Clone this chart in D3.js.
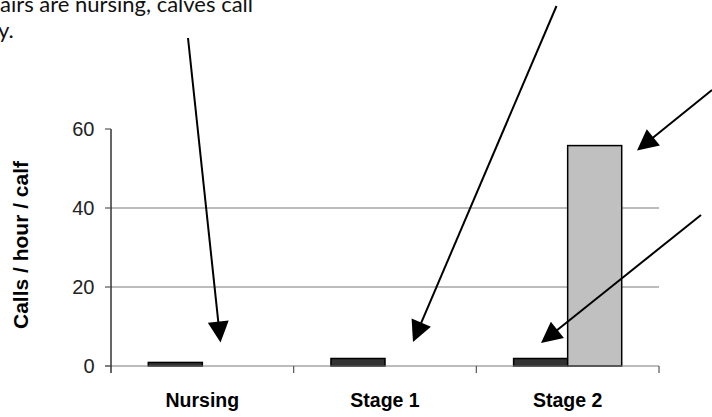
<!DOCTYPE html>
<html>
<head>
<meta charset="utf-8">
<script src="https://cdn.jsdelivr.net/npm/d3@7"></script>
<style>
  body { margin: 0; background: #fff; }
  svg { display: block; }
</style>
</head>
<body>
<div id="chart"></div>
<script>
// data
var categories = ["Nursing", "Stage 1", "Stage 2"];
var seriesNames = ["calf", "mother"];
var calfValues = [0.9, 1.9, 1.9];
var motherValues = [0, 0, 55.8];
var yTicks = [0, 20, 40, 60];
var gridTicks = [20, 40];
var noteLines = ["airs are nursing, calves call", "y."];

// arrows (annotation, pixel space): [x1, y1, tipX, tipY]
var arrows = [
	[188, 38, 220.5, 342.5],
	[556.5, 6, 413, 342],
	[712, 90, 637, 150.5],
	[701, 215, 541, 343]
];

var chartW = 712, chartH = 417;
var plotL = 111, plotR = 659, plotT = 129, plotB = 366;

var svg = d3.select("#chart").append("svg")
	.attr("width", chartW)
	.attr("height", chartH);

var x = d3.scaleBand()
	.domain(categories)
	.range([plotL, plotR])
	.padding(0);

var xs = d3.scaleBand()
	.domain(seriesNames)
	.range([0, x.bandwidth()])
	.paddingInner(0)
	.paddingOuter(0.69);

var y = d3.scaleLinear()
	.domain([0, 60])
	.range([plotB, plotT]);

//
// gridlines
//
svg.append("g")
	.selectAll("line")
	.data(gridTicks)
	.enter()
	.append("line")
	.attr("x1", plotL)
	.attr("x2", plotR)
	.attr("y1", function(d) { return y(d); })
	.attr("y2", function(d) { return y(d); })
	.attr("stroke", "#7a7a7a")
	.attr("stroke-width", 1.2);

//
// bars
//
var rows = categories.map(function(c, i) {
	return { cat: c, values: [
		{ s: "calf", v: calfValues[i] },
		{ s: "mother", v: motherValues[i] }
	] };
});

var colors = { calf: "#333333", mother: "#c0c0c0" };

var groups = svg.append("g")
	.selectAll("g")
	.data(rows)
	.enter()
	.append("g")
	.attr("transform", function(d) { return "translate(" + x(d.cat) + ",0)"; });

groups.selectAll("rect")
	.data(function(d) { return d.values.filter(function(e) { return e.v > 0; }); })
	.enter()
	.append("rect")
	.attr("x", function(d) { return xs(d.s); })
	.attr("width", xs.bandwidth())
	.attr("y", function(d) { return y(d.v); })
	.attr("height", function(d) { return y(0) - y(d.v); })
	.attr("fill", function(d) { return colors[d.s]; })
	.attr("stroke", "#000")
	.attr("stroke-width", 1.5);

//
// x axis
//
svg.append("line")
	.attr("x1", plotL - 6).attr("x2", plotR)
	.attr("y1", y(0)).attr("y2", y(0))
	.attr("stroke", "#7a7a7a")
	.attr("stroke-width", 1.2);

svg.append("g")
	.selectAll("line")
	.data(categories)
	.enter()
	.append("line")
	.attr("x1", function(d) { return x(d) + x.bandwidth(); })
	.attr("x2", function(d) { return x(d) + x.bandwidth(); })
	.attr("y1", y(0))
	.attr("y2", y(0) + 7)
	.attr("stroke", "#555")
	.attr("stroke-width", 1.2);

svg.append("g")
	.selectAll("text")
	.data(categories)
	.enter()
	.append("text")
	.attr("x", function(d) { return x(d) + x.bandwidth() / 2; })
	.attr("y", 407)
	.attr("text-anchor", "middle")
	.attr("font-family", "Liberation Sans, Arial, sans-serif")
	.attr("font-weight", "bold")
	.attr("font-size", 19.5)
	.attr("fill", "#000")
	.text(function(d) { return d; });

//
// y axis
//
svg.append("line")
	.attr("x1", plotL).attr("x2", plotL)
	.attr("y1", y(60)).attr("y2", y(0) + 7)
	.attr("stroke", "#000")
	.attr("stroke-width", 1.2);

svg.append("g")
	.selectAll("line")
	.data(yTicks)
	.enter()
	.append("line")
	.attr("x1", plotL - 6).attr("x2", plotL)
	.attr("y1", function(d) { return y(d); })
	.attr("y2", function(d) { return y(d); })
	.attr("stroke", "#555")
	.attr("stroke-width", 1.2);

svg.append("g")
	.selectAll("text")
	.data(yTicks)
	.enter()
	.append("text")
	.attr("x", 94.5)
	.attr("y", function(d) { return y(d); })
	.attr("dy", "0.36em")
	.attr("text-anchor", "end")
	.attr("font-family", "Liberation Sans, Arial, sans-serif")
	.attr("font-size", 20)
	.attr("fill", "#222")
	.text(function(d) { return d; });

svg.append("text")
	.attr("transform", "translate(28," + 245 + ") rotate(-90)")
	.attr("text-anchor", "middle")
	.attr("font-family", "Liberation Sans, Arial, sans-serif")
	.attr("font-weight", "bold")
	.attr("font-size", 21)
	.attr("fill", "#000")
	.text("Calls / hour / calf");

//
// note text (cut off at the edge, as in the original slide)
//
svg.append("g")
	.selectAll("text")
	.data(noteLines)
	.enter()
	.append("text")
	.attr("x", function(d, i) { return i === 0 ? 0 : -2; })
	.attr("y", function(d, i) { return 12 + i * 26; })
	.attr("font-family", "Lato, sans-serif")
	.attr("font-size", 22)
	.attr("fill", "#111")
	.text(function(d) { return d; });

//
// arrows
//
var headLen = 21, headHalf = 10.5;
var arr = svg.append("g").selectAll("g")
	.data(arrows)
	.enter()
	.append("g");

arr.append("line")
	.attr("x1", function(d) { return d[0]; })
	.attr("y1", function(d) { return d[1]; })
	.attr("x2", function(d) {
		var a = Math.atan2(d[3] - d[1], d[2] - d[0]);
		return d[2] - Math.cos(a) * headLen * 0.8;
	})
	.attr("y2", function(d) {
		var a = Math.atan2(d[3] - d[1], d[2] - d[0]);
		return d[3] - Math.sin(a) * headLen * 0.8;
	})
	.attr("stroke", "#000")
	.attr("stroke-width", 2);

arr.append("path")
	.attr("d", function(d) {
		var a = Math.atan2(d[3] - d[1], d[2] - d[0]);
		var bx = d[2] - Math.cos(a) * headLen, by = d[3] - Math.sin(a) * headLen;
		var px = -Math.sin(a) * headHalf, py = Math.cos(a) * headHalf;
		return "M" + d[2] + "," + d[3] +
			"L" + (bx + px) + "," + (by + py) +
			"L" + (bx - px) + "," + (by - py) + "Z";
	})
	.attr("fill", "#000");
</script>
</body>
</html>
